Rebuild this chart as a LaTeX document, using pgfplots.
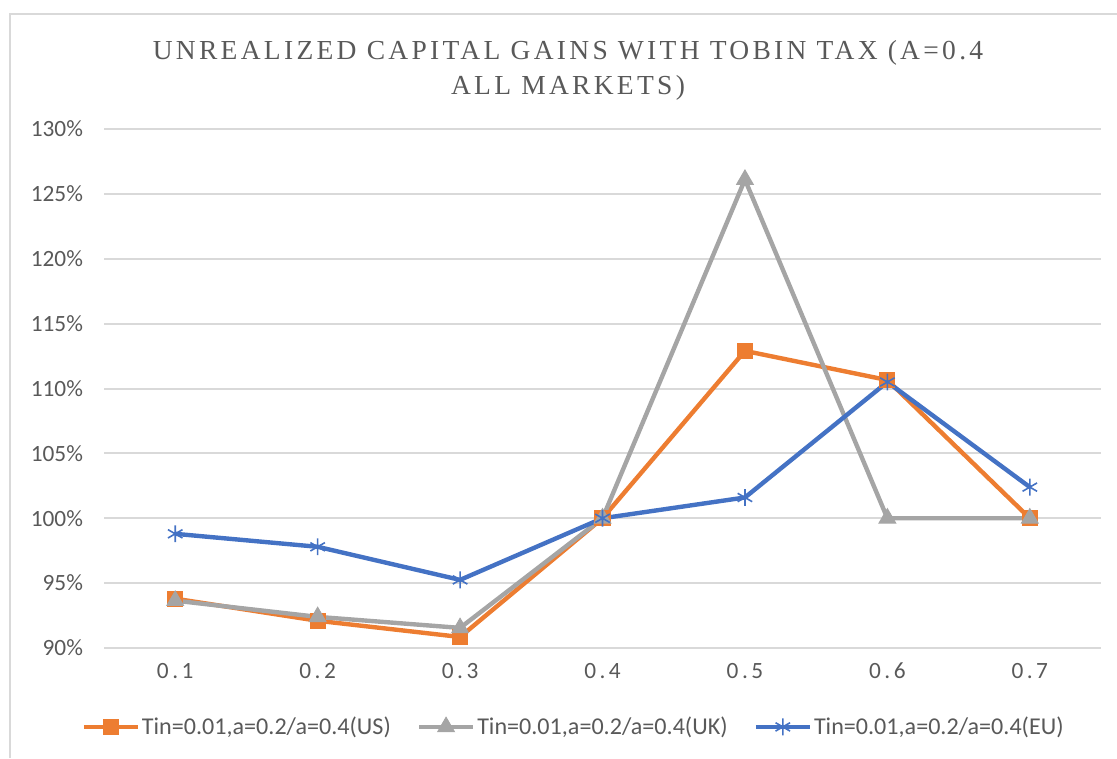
\documentclass[border=0pt]{standalone}
\usepackage{pgfplots}
\pgfplotsset{compat=1.18}
\usepackage{fontspec}
\setmainfont{Carlito}
\newfontfamily\titlefont[LetterSpace=12]{Liberation Serif}
\newfontfamily\spacedfont[LetterSpace=15]{Carlito}
\definecolor{cOrange}{HTML}{ED7D31}
\definecolor{cGray}{HTML}{A5A5A5}
\definecolor{cBlue}{HTML}{4472C4}
\definecolor{cGrid}{HTML}{D9D9D9}
\definecolor{cText}{HTML}{595959}
\begin{document}
\begin{tikzpicture}[x=1bp,y=1bp]
\useasboundingbox (0,0) rectangle (558.5,379);
\draw[cGrid, line width=1bp] (5,0) -- (5,372) -- (558.5,372);
\node[text=cText, font=\titlefont\fontsize{13.8}{17.5}\selectfont, align=center] at (284,344)
  {UNREALIZED CAPITAL GAINS WITH TOBIN TAX (A=0.4\\ALL MARKETS)};
\begin{axis}[
  at={(52bp,55bp)}, anchor=south west,
  scale only axis,
  width=498.5bp, height=259.5bp,
  xmin=-0.5, xmax=6.5,
  ymin=90, ymax=130,
  xtick={0,1,2,3,4,5,6},
  xticklabels={0.1,0.2,0.3,0.4,0.5,0.6,0.7},
  ytick={90,95,100,105,110,115,120,125,130},
  yticklabel={\pgfmathprintnumber{\tick}\%},
  /pgf/number format/assume math mode=true,
  axis line style={draw=none},
  major tick length=0pt,
  ymajorgrids,
  grid style={cGrid, line width=1bp},
  tick label style={text=cText, font=\fontsize{11.7}{13}\selectfont},
  xticklabel style={font=\spacedfont\fontsize{11.7}{13}\selectfont, yshift=-4bp},
  yticklabel style={xshift=-7bp},
  legend columns=3,
  legend style={at={(0.472,-0.152)}, anchor=center, draw=none, fill=none,
    font=\fontsize{12.1}{14}\selectfont, text=cText,
    /tikz/every even column/.append style={column sep=11bp},
    /tikz/every odd column/.append style={column sep=-1bp}},
  legend image code/.code={
    \draw[#1, mark=none] (0bp,0bp) -- (27bp,0bp);
    \draw[#1, line width=0.8bp] plot coordinates {(13.5bp,0bp)};
  },
  clip=false,
]
\addplot[cOrange, line width=2.2bp, mark=square*, mark size=3.8bp, mark options={solid, line width=0.5bp}]
  coordinates {(0,93.8) (1,92.1) (2,90.85) (3,100) (4,112.9) (5,110.65) (6,100)};
\addlegendentry{Tin=0.01,a=0.2/a=0.4(US)}
\addplot[cGray, line width=2.2bp, mark=triangle*, mark size=4.8bp, mark options={solid, line width=0.5bp}]
  coordinates {(0,93.65) (1,92.4) (2,91.55) (3,100) (4,126.1) (5,100) (6,100)};
\addlegendentry{Tin=0.01,a=0.2/a=0.4(UK)}
\addplot[cBlue, line width=2.2bp, mark=asterisk, mark size=4.2bp, mark options={solid, line width=0.8bp}]
  coordinates {(0,98.8) (1,97.8) (2,95.25) (3,100) (4,101.6) (5,110.5) (6,102.4)};
\addlegendentry{Tin=0.01,a=0.2/a=0.4(EU)}
\end{axis}
\end{tikzpicture}
\end{document}
